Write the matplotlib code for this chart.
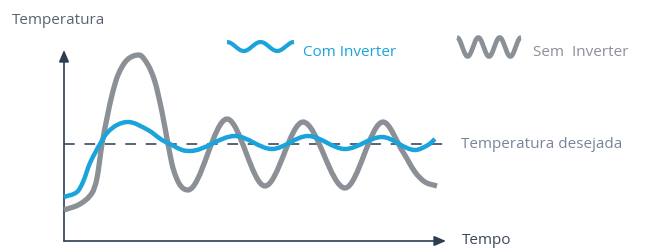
import numpy as np
import matplotlib
matplotlib.use("Agg")
import matplotlib.pyplot as plt
from matplotlib.path import Path
from matplotlib.patches import PathPatch

plt.rcParams['font.family'] = ['Open Sans', 'DejaVu Sans']

# ---- data (time units, temperature units) ----
sem_time = [0, 16, 28, 33, 38, 43, 48, 54, 63, 75, 84, 91, 98, 104, 109, 116, 124,
            163, 201, 239, 281, 319, 339, 351, 361, 373]
sem_temp = [31, 37, 48, 63, 97, 123, 146, 166, 181, 186, 176, 159, 129, 97, 73, 56, 51,
            122, 55, 119, 53, 119, 89, 69, 59, 55]

com_time = [0, 13, 19, 26, 36, 43, 53, 64, 84, 98, 108, 118, 126,
            171, 208, 244, 281, 318, 351, 364, 371]
com_temp = [44, 49, 59, 78, 97, 108, 116, 119, 111, 101, 96, 91, 90,
            105, 92, 105, 92, 104, 91, 96, 102]

setpoint = 97
x_end = 382
y_end = 191

labels = {
    'y': 'Temperatura',
    'x': 'Tempo',
    'set': 'Temperatura desejada',
    'com': 'Com Inverter',
    'sem': 'Sem  Inverter',
}

BLUE = '#1ba3dc'
GRAY = '#8b9097'
AXIS = '#2e3d52'
DASH = '#56647a'


def smooth_path(x, y):
    x = np.asarray(x, float)
    y = np.asarray(y, float)
    n = len(x)
    d = np.diff(y) / np.diff(x)
    m = np.zeros(n)
    m[0] = d[0]
    m[-1] = d[-1]
    for k in range(1, n - 1):
        if d[k - 1] * d[k] <= 0:
            m[k] = 0.0  # local extreme
        else:
            m[k] = (y[k + 1] - y[k - 1]) / (x[k + 1] - x[k - 1])
    verts = [(x[0], y[0])]
    codes = [Path.MOVETO]
    for k in range(n - 1):
        dx = (x[k + 1] - x[k]) / 3.0
        verts += [(x[k] + dx, y[k] + m[k] * dx),
                  (x[k + 1] - dx, y[k + 1] - m[k + 1] * dx),
                  (x[k + 1], y[k + 1])]
        codes += [Path.CURVE4] * 3
    return Path(verts, codes)


W, H = 646, 248
fig = plt.figure(figsize=(W / 100, H / 100), dpi=100)

ax = fig.add_axes([64 / W, 7 / H, x_end / W, y_end / H])
ax.set_xlim(0, x_end)
ax.set_ylim(0, y_end)
ax.axis('off')

ax.plot([0, x_end], [setpoint, setpoint], color=DASH, lw=1.4,
        dashes=(5.5, 5), zorder=1)

ax.add_patch(PathPatch(smooth_path(sem_time, sem_temp), fill=False, edgecolor=GRAY,
                       lw=3.8, capstyle='butt', joinstyle='round', zorder=3,
                       clip_on=False))
ax.add_patch(PathPatch(smooth_path(com_time, com_temp), fill=False, edgecolor=BLUE,
                       lw=3.2, capstyle='butt', joinstyle='round', zorder=4,
                       clip_on=False))

ax.annotate('', xy=(0, y_end), xytext=(0, 0),
            arrowprops=dict(arrowstyle='-|>,head_length=0.7,head_width=0.3',
                            color=AXIS, lw=1.2, shrinkA=0, shrinkB=0),
            annotation_clip=False, zorder=2)
ax.annotate('', xy=(x_end, 0), xytext=(0, 0),
            arrowprops=dict(arrowstyle='-|>,head_length=0.7,head_width=0.3',
                            color=AXIS, lw=1.2, shrinkA=0, shrinkB=0),
            annotation_clip=False, zorder=2)

ov = fig.add_axes([0, 0, 1, 1])
ov.set_xlim(0, W)
ov.set_ylim(H, 0)
ov.axis('off')
ov.patch.set_alpha(0)

fs = 11
ov.text(12, 21, labels['y'], color='#5a6371', fontsize=fs, va='center', ha='left')
ov.text(461, 145, labels['set'], color='#7a849a', fontsize=fs, va='center', ha='left')
ov.text(462, 244, labels['x'], color='#3c4758', fontsize=fs, va='baseline', ha='left')
ov.text(303, 52, labels['com'], color=BLUE, fontsize=fs, va='center', ha='left')
ov.text(533, 52, labels['sem'], color=GRAY, fontsize=fs, va='center', ha='left')

# legend glyphs (decorative waves)
u = np.linspace(0, 1, 200)
ov.plot(227 + 67 * u, 46.5 - 4.5 * np.cos(4 * np.pi * u), color=BLUE, lw=3.0,
        solid_capstyle='butt')
ov.plot(457 + 64 * u, 47 - 9.5 * np.cos(6 * np.pi * u), color=GRAY, lw=3.4,
        solid_capstyle='butt')

fig.savefig('out.png', dpi=100, facecolor='white')
